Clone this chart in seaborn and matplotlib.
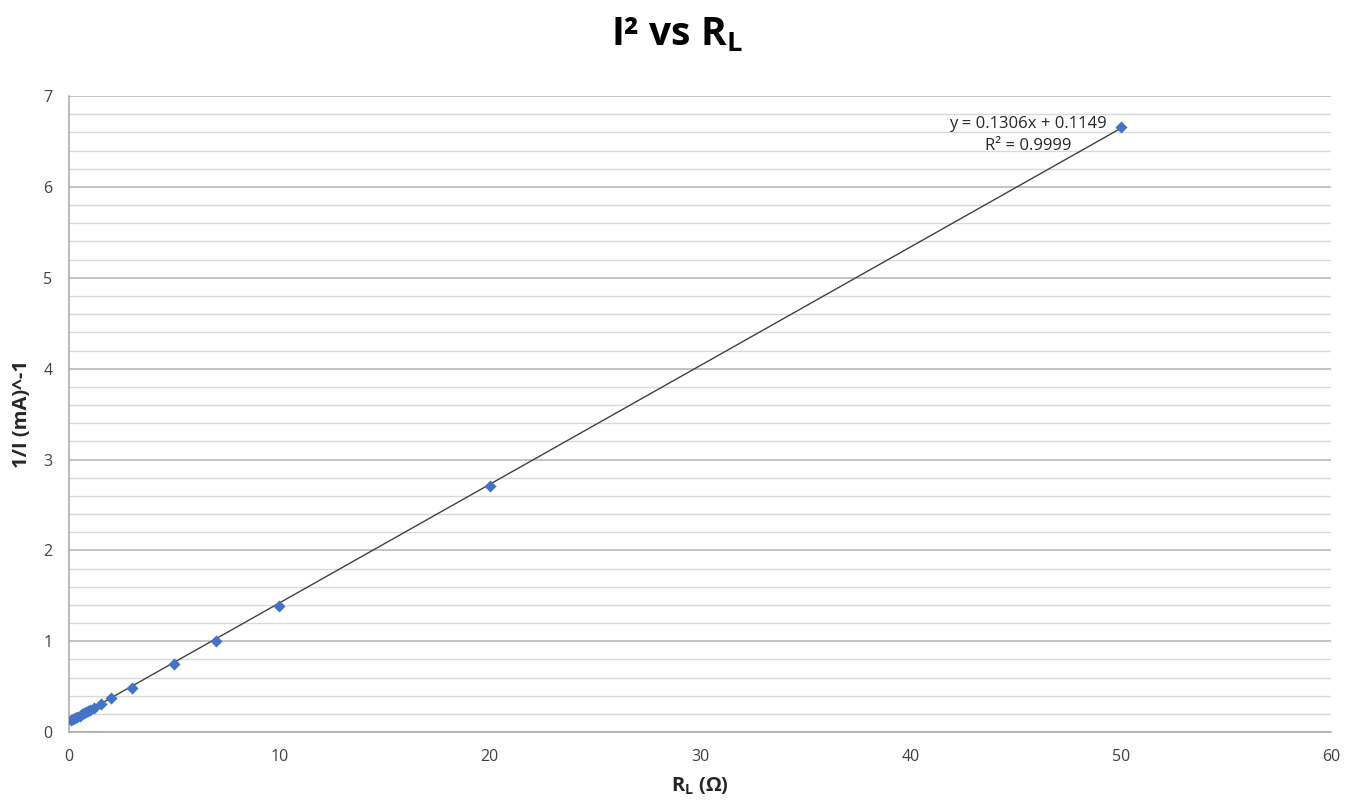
import numpy as np
import pandas as pd
import seaborn as sns
import matplotlib.pyplot as plt
from matplotlib.ticker import MultipleLocator

# load resistance (ohm) and 1/I values
r_load = [0.1, 0.2, 0.3, 0.4, 0.5, 0.6, 0.7, 0.8, 0.9, 1.0, 1.2, 1.5, 2, 3, 5, 7, 10, 20, 50]
inv_current = [0.13, 0.14, 0.155, 0.17, 0.18, 0.195, 0.21, 0.22, 0.235, 0.245, 0.27,
               0.31, 0.37, 0.49, 0.75, 1.00, 1.39, 2.71, 6.66]
fit_slope = 0.1306
fit_intercept = 0.1149
fit_r2 = 0.9999

df = pd.DataFrame({'RL': r_load, 'invI': inv_current})
x_fit = np.array([min(r_load), max(r_load)])
trend = pd.DataFrame({'RL': x_fit, 'invI': fit_slope * x_fit + fit_intercept})

sns.set_style('white')
plt.rcParams['font.family'] = ['Open Sans', 'DejaVu Sans']
plt.rcParams['mathtext.fontset'] = 'custom'
plt.rcParams['mathtext.rm'] = 'Open Sans'
plt.rcParams['mathtext.bf'] = 'Open Sans:bold'

fig = plt.figure(figsize=(13.54, 8.08), dpi=100)
ax = fig.add_axes([0.051, 0.094, 0.932, 0.787])

sns.lineplot(data=trend, x='RL', y='invI', color='#404040', linewidth=1.0, ax=ax, zorder=2)
sns.scatterplot(data=df, x='RL', y='invI', marker='D', s=38, color='#4472C4',
                edgecolor='#4472C4', linewidth=0, ax=ax, zorder=3)

ax.set_xlim(0, 60)
ax.set_ylim(0, 7)
ax.xaxis.set_major_locator(MultipleLocator(10))
ax.yaxis.set_major_locator(MultipleLocator(1))
ax.yaxis.set_minor_locator(MultipleLocator(0.2))
ax.grid(which='major', axis='y', color='#b3b3b3', linewidth=1.1)
ax.grid(which='minor', axis='y', color='#d9d9d9', linewidth=1.0)
ax.set_axisbelow(True)

for s in ['top', 'right']:
    ax.spines[s].set_visible(False)
for s in ['left', 'bottom']:
    ax.spines[s].set_color('#a6a6a6')
    ax.spines[s].set_linewidth(1.1)

ax.tick_params(axis='both', which='major', direction='out', length=6, width=1,
               color='#a6a6a6', labelsize=11.5, labelcolor='#404040', pad=6)
ax.tick_params(axis='y', which='minor', length=0)

ax.set_xlabel(r'R$_\mathbf{L}$ (Ω)', fontsize=14.5, fontweight='bold', labelpad=8)
ax.set_ylabel('1/I (mA)^-1', fontsize=14.5, fontweight='bold', labelpad=8)

ax.text(45.6, 6.69, f'y = {fit_slope}x + {fit_intercept}', ha='center', va='center',
        fontsize=12, color='#262626')
ax.text(45.6, 6.45, f'R² = {fit_r2}', ha='center', va='center',
        fontsize=12, color='#262626')

fig.suptitle(r'I² vs R$_\mathbf{L}$', fontsize=28, fontweight='bold', y=0.98, color='black')

plt.savefig('out.png', dpi=100)
